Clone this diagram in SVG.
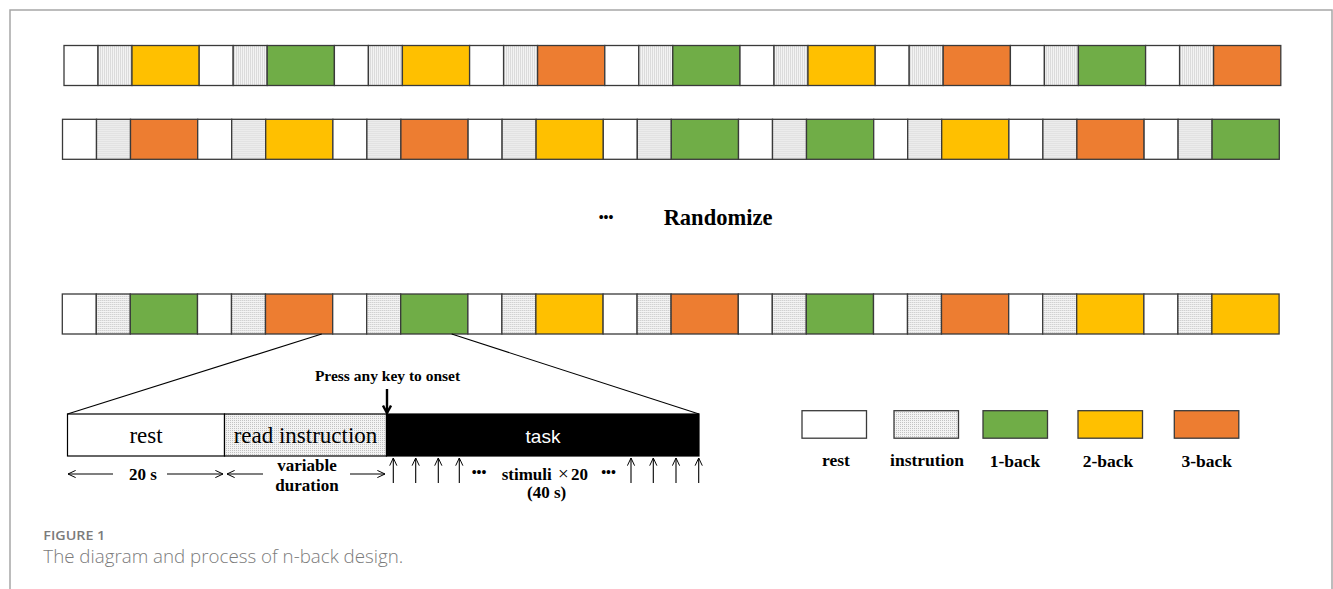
<svg xmlns="http://www.w3.org/2000/svg" width="1333" height="589" viewBox="0 0 1333 589">
  <defs>
    <!-- fine stipple used for the instruction blocks -->
    <pattern id="stipple" width="2" height="2" patternUnits="userSpaceOnUse">
      <rect width="2" height="2" fill="#f3f3f3"/>
      <rect width="1" height="1" fill="#c2c2c2"/>
    </pattern>
    <marker id="head" viewBox="0 0 10 10" refX="9.5" refY="5" markerWidth="9" markerHeight="9" markerUnits="userSpaceOnUse" orient="auto-start-reverse">
      <path d="M1,1 L9.5,5 L1,9" fill="none" stroke="#000" stroke-width="1.1"/>
    </marker>
    <marker id="headBold" viewBox="0 0 10 10" refX="9" refY="5" markerWidth="10" markerHeight="10" markerUnits="userSpaceOnUse" orient="auto">
      <path d="M1.5,1 L9,5 L1.5,9" fill="none" stroke="#000" stroke-width="2.4"/>
    </marker>
  </defs>
  <style>
    .cell { stroke: #3a3a3a; stroke-width: 1.3; }
    .w { fill: #ffffff; }
    .d { fill: url(#stipple); }
    .g { fill: #70ad47; }
    .y { fill: #ffc000; }
    .o { fill: #ed7d31; }
    .serif { font-family: "Liberation Serif", "Times New Roman", serif; fill: #000; }
    .b { font-weight: bold; }
    .cap { font-family: "Open Sans", "Liberation Sans", sans-serif; fill: #7b7b7b; }
    .ln { stroke: #000; stroke-width: 1.1; fill: none; }
  </style>

  <rect width="1333" height="589" fill="#ffffff"/>
  <!-- page frame -->
  <path d="M10,589 V10 H1332 V589" fill="none" stroke="#a6a6a6" stroke-width="1.5"/>

  <!-- sequence 1 -->
  <g id="sequence-1" transform="translate(64,45.5)">
    <g class="cell">
      <rect class="w" x="0" y="0" width="34" height="40"/><rect class="d" x="34" y="0" width="34" height="40"/><rect class="y" x="68" y="0" width="67.2" height="40"/>
      <rect class="w" x="135.2" y="0" width="34" height="40"/><rect class="d" x="169.2" y="0" width="34" height="40"/><rect class="g" x="203.2" y="0" width="67.2" height="40"/>
      <rect class="w" x="270.4" y="0" width="34" height="40"/><rect class="d" x="304.4" y="0" width="34" height="40"/><rect class="y" x="338.4" y="0" width="67.2" height="40"/>
      <rect class="w" x="405.6" y="0" width="34" height="40"/><rect class="d" x="439.6" y="0" width="34" height="40"/><rect class="o" x="473.6" y="0" width="67.2" height="40"/>
      <rect class="w" x="540.8" y="0" width="34" height="40"/><rect class="d" x="574.8" y="0" width="34" height="40"/><rect class="g" x="608.8" y="0" width="67.2" height="40"/>
      <rect class="w" x="676" y="0" width="34" height="40"/><rect class="d" x="710" y="0" width="34" height="40"/><rect class="y" x="744" y="0" width="67.2" height="40"/>
      <rect class="w" x="811.2" y="0" width="34" height="40"/><rect class="d" x="845.2" y="0" width="34" height="40"/><rect class="o" x="879.2" y="0" width="67.2" height="40"/>
      <rect class="w" x="946.4" y="0" width="34" height="40"/><rect class="d" x="980.4" y="0" width="34" height="40"/><rect class="g" x="1014.4" y="0" width="67.2" height="40"/>
      <rect class="w" x="1081.6" y="0" width="34" height="40"/><rect class="d" x="1115.6" y="0" width="34" height="40"/><rect class="o" x="1149.6" y="0" width="67.2" height="40"/>
    </g>
  </g>

  <!-- sequence 2 -->
  <g id="sequence-2" transform="translate(62.5,119.3)">
    <g class="cell">
      <rect class="w" x="0" y="0" width="34" height="40"/><rect class="d" x="34" y="0" width="34" height="40"/><rect class="o" x="68" y="0" width="67.2" height="40"/>
      <rect class="w" x="135.2" y="0" width="34" height="40"/><rect class="d" x="169.2" y="0" width="34" height="40"/><rect class="y" x="203.2" y="0" width="67.2" height="40"/>
      <rect class="w" x="270.4" y="0" width="34" height="40"/><rect class="d" x="304.4" y="0" width="34" height="40"/><rect class="o" x="338.4" y="0" width="67.2" height="40"/>
      <rect class="w" x="405.6" y="0" width="34" height="40"/><rect class="d" x="439.6" y="0" width="34" height="40"/><rect class="y" x="473.6" y="0" width="67.2" height="40"/>
      <rect class="w" x="540.8" y="0" width="34" height="40"/><rect class="d" x="574.8" y="0" width="34" height="40"/><rect class="g" x="608.8" y="0" width="67.2" height="40"/>
      <rect class="w" x="676" y="0" width="34" height="40"/><rect class="d" x="710" y="0" width="34" height="40"/><rect class="g" x="744" y="0" width="67.2" height="40"/>
      <rect class="w" x="811.2" y="0" width="34" height="40"/><rect class="d" x="845.2" y="0" width="34" height="40"/><rect class="y" x="879.2" y="0" width="67.2" height="40"/>
      <rect class="w" x="946.4" y="0" width="34" height="40"/><rect class="d" x="980.4" y="0" width="34" height="40"/><rect class="o" x="1014.4" y="0" width="67.2" height="40"/>
      <rect class="w" x="1081.6" y="0" width="34" height="40"/><rect class="d" x="1115.6" y="0" width="34" height="40"/><rect class="g" x="1149.6" y="0" width="67.2" height="40"/>
    </g>
  </g>

  <!-- ellipsis between the sequences -->
  <g id="randomize">
    <text class="serif b" x="606" y="222" font-size="14" text-anchor="middle">•••</text>
    <text class="serif b" x="718" y="225" font-size="22.5" text-anchor="middle">Randomize</text>
  </g>

  <!-- sequence n -->
  <g id="sequence-n" transform="translate(62.3,294)">
    <g class="cell">
      <rect class="w" x="0" y="0" width="34" height="40"/><rect class="d" x="34" y="0" width="34" height="40"/><rect class="g" x="68" y="0" width="67.2" height="40"/>
      <rect class="w" x="135.2" y="0" width="34" height="40"/><rect class="d" x="169.2" y="0" width="34" height="40"/><rect class="o" x="203.2" y="0" width="67.2" height="40"/>
      <rect class="w" x="270.4" y="0" width="34" height="40"/><rect class="d" x="304.4" y="0" width="34" height="40"/><rect class="g" x="338.4" y="0" width="67.2" height="40"/>
      <rect class="w" x="405.6" y="0" width="34" height="40"/><rect class="d" x="439.6" y="0" width="34" height="40"/><rect class="y" x="473.6" y="0" width="67.2" height="40"/>
      <rect class="w" x="540.8" y="0" width="34" height="40"/><rect class="d" x="574.8" y="0" width="34" height="40"/><rect class="o" x="608.8" y="0" width="67.2" height="40"/>
      <rect class="w" x="676" y="0" width="34" height="40"/><rect class="d" x="710" y="0" width="34" height="40"/><rect class="g" x="744" y="0" width="67.2" height="40"/>
      <rect class="w" x="811.2" y="0" width="34" height="40"/><rect class="d" x="845.2" y="0" width="34" height="40"/><rect class="o" x="879.2" y="0" width="67.2" height="40"/>
      <rect class="w" x="946.4" y="0" width="34" height="40"/><rect class="d" x="980.4" y="0" width="34" height="40"/><rect class="y" x="1014.4" y="0" width="67.2" height="40"/>
      <rect class="w" x="1081.6" y="0" width="34" height="40"/><rect class="d" x="1115.6" y="0" width="34" height="40"/><rect class="y" x="1149.6" y="0" width="67.2" height="40"/>
    </g>
  </g>

  <!-- expanded trial -->
  <g id="trial-rest">
    <rect x="67.5" y="414" width="157" height="42" fill="#fff" stroke="#000" stroke-width="1.2"/>
    <text class="serif" x="146" y="443" font-size="23" text-anchor="middle">rest</text>
  </g>
  <g id="trial-instruction">
    <rect x="224.5" y="414" width="162" height="42" fill="url(#stipple)" stroke="#000" stroke-width="1.2"/>
    <text class="serif" x="305.5" y="443" font-size="23" text-anchor="middle">read instruction</text>
  </g>
  <g id="trial-task">
    <rect x="386.5" y="414" width="312.5" height="42" fill="#000" stroke="#000" stroke-width="1.2"/>
    <text x="543" y="443" font-size="19" text-anchor="middle" font-family="Liberation Sans, Arial, sans-serif" fill="#fff">task</text>
  </g>

  <g id="onset-label">
    <text class="serif b" x="387.5" y="381" font-size="15.5" text-anchor="middle">Press any key to onset</text>
  </g>

  <!-- timing labels -->
  <g id="timing-labels" class="serif b" font-size="17">
    <text x="143" y="480" text-anchor="middle">20 s</text>
    <text x="307" y="471" text-anchor="middle">variable</text>
    <text x="307" y="491" text-anchor="middle">duration</text>
    <text x="479" y="477" font-size="14" text-anchor="middle">•••</text>
    <text x="501.7" y="480">stimuli</text>
    <text x="558" y="480" font-weight="normal" font-size="19">×</text>
    <text x="571" y="480">20</text>
    <text x="608.5" y="477" font-size="14" text-anchor="middle">•••</text>
    <text x="546.7" y="498" text-anchor="middle">(40 s)</text>
  </g>

  <!-- connectors -->
  <g id="connectors">
    <line class="ln" x1="321.7" y1="334" x2="67.5" y2="414"/>
    <line class="ln" x1="451.7" y1="334" x2="699" y2="414"/>
    <line x1="387" y1="389" x2="387" y2="413" stroke="#000" stroke-width="2.4" marker-end="url(#headBold)"/>
    <!-- duration spans -->
    <line class="ln" x1="68" y1="474" x2="113" y2="474" marker-start="url(#head)"/>
    <line class="ln" x1="167" y1="474" x2="223" y2="474" marker-end="url(#head)"/>
    <line class="ln" x1="227" y1="474" x2="263" y2="474" marker-start="url(#head)"/>
    <line class="ln" x1="350" y1="474" x2="385" y2="474" marker-end="url(#head)"/>
    <!-- stimulus onsets -->
    <line class="ln" x1="393.3" y1="483" x2="393.3" y2="458" marker-end="url(#head)"/>
    <line class="ln" x1="415.7" y1="483" x2="415.7" y2="458" marker-end="url(#head)"/>
    <line class="ln" x1="438.3" y1="483" x2="438.3" y2="458" marker-end="url(#head)"/>
    <line class="ln" x1="459.3" y1="483" x2="459.3" y2="458" marker-end="url(#head)"/>
    <line class="ln" x1="631" y1="483" x2="631" y2="458" marker-end="url(#head)"/>
    <line class="ln" x1="653.3" y1="483" x2="653.3" y2="458" marker-end="url(#head)"/>
    <line class="ln" x1="676" y1="483" x2="676" y2="458" marker-end="url(#head)"/>
    <line class="ln" x1="698.7" y1="483" x2="698.7" y2="458" marker-end="url(#head)"/>
  </g>

  <!-- legend -->
  <g id="legend-rest">
    <rect class="cell w" x="802" y="410.7" width="64.5" height="27.5"/>
    <text class="serif b" x="836" y="466" font-size="17.5" text-anchor="middle">rest</text>
  </g>
  <g id="legend-instruction">
    <rect class="cell d" x="894" y="410.7" width="64.5" height="27.5"/>
    <text class="serif b" x="927" y="466" font-size="17.5" text-anchor="middle">instrution</text>
  </g>
  <g id="legend-1back">
    <rect class="cell g" x="983" y="410.7" width="64.5" height="27.5"/>
    <text class="serif b" x="1015" y="467" font-size="17.5" text-anchor="middle">1-back</text>
  </g>
  <g id="legend-2back">
    <rect class="cell y" x="1078" y="410.7" width="64.5" height="27.5"/>
    <text class="serif b" x="1108" y="467" font-size="17.5" text-anchor="middle">2-back</text>
  </g>
  <g id="legend-3back">
    <rect class="cell o" x="1174.3" y="410.7" width="64.5" height="27.5"/>
    <text class="serif b" x="1206.7" y="467" font-size="17.5" text-anchor="middle">3-back</text>
  </g>

  <!-- caption -->
  <g id="caption">
    <text class="cap" x="43.3" y="540" font-size="12" font-weight="600" textLength="62" lengthAdjust="spacingAndGlyphs" fill="#858585">FIGURE 1</text>
    <text class="cap" x="43.3" y="563" font-size="18" font-weight="300" textLength="360" lengthAdjust="spacingAndGlyphs" fill="#737373">The diagram and process of n-back design.</text>
  </g>
</svg>
